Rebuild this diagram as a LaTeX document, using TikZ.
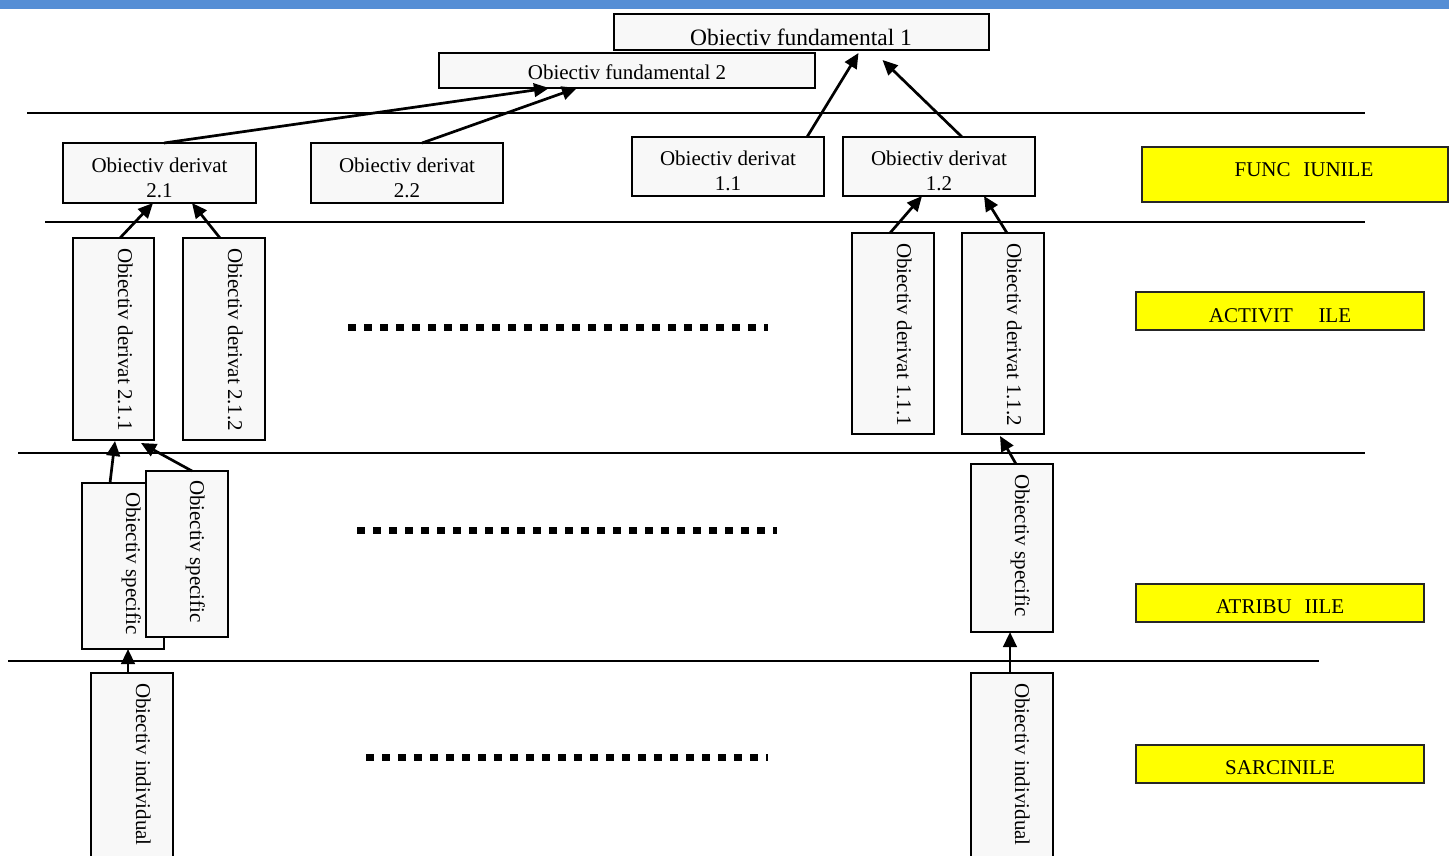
\documentclass[tikz,border=0pt]{standalone}
\usepackage{fontspec}
\setmainfont{Liberation Serif}
\usetikzlibrary{arrows.meta}
\definecolor{topbar}{HTML}{558ED5}
\definecolor{boxfill}{HTML}{F8F8F8}
\definecolor{tagfill}{HTML}{FFFF00}
\begin{document}
\begin{tikzpicture}[x=1pt,y=-1pt,
  objbox/.style={draw=black, line width=1.8pt, fill=boxfill, rectangle,
    inner sep=0pt, outer sep=0pt, anchor=north west},
  tagbox/.style={draw=black!85, line width=1.8pt, fill=tagfill, rectangle,
    inner sep=0pt, outer sep=0pt, anchor=north west},
  txt/.style={inner sep=0pt, outer sep=0pt, font=\fontsize{21}{25}\selectfont},
  bigtxt/.style={inner sep=0pt, outer sep=0pt, font=\fontsize{23.5}{28}\selectfont},
  vtxt/.style={txt, rotate=-90, anchor=base west},
  rule/.style={line width=1.8pt},
  dotrow/.style={line width=7pt, dash pattern=on 8pt off 8pt},
  arr/.style={line width=2.7pt, -{Triangle[length=15pt,width=13.5pt]}}]
\useasboundingbox (0,0) rectangle (1449,855);
\clip (0,0) rectangle (1449,855);
\fill[white] (0,0) rectangle (1449,855);
\fill[topbar] (0,0) rectangle (1449,8.5);

% level separators
\draw[rule] (27,113) -- (1365,113);
\draw[rule] (45,222) -- (1365,222);
\draw[rule] (18,453) -- (1365,453);
\draw[rule] (8,661) -- (1319,661);

% fundamental objectives
\node[objbox, minimum width=375pt, minimum height=36pt] (F1) at (614,14) {};
\node[bigtxt, anchor=base] (tF1) at (801,45) {Obiectiv fundamental 1};
\node[objbox, minimum width=376pt, minimum height=35pt] (F2) at (439,53) {};
\node[txt, anchor=base] (tF2) at (627,79) {Obiectiv fundamental 2};

% derived objectives
\node[objbox, minimum width=193pt, minimum height=60pt] (D21) at (63,143) {};
\node[txt, anchor=base] (tD21a) at (159.5,172) {Obiectiv derivat};
\node[txt, anchor=base] (tD21b) at (159.5,197) {2.1};
\node[objbox, minimum width=192pt, minimum height=60pt] (D22) at (311,143) {};
\node[txt, anchor=base] (tD22a) at (407,172) {Obiectiv derivat};
\node[txt, anchor=base] (tD22b) at (407,197) {2.2};
\node[objbox, minimum width=192pt, minimum height=59pt] (D11) at (632,137) {};
\node[txt, anchor=base] (tD11a) at (728,165) {Obiectiv derivat};
\node[txt, anchor=base] (tD11b) at (728,190) {1.1};
\node[objbox, minimum width=192pt, minimum height=59pt] (D12) at (843,137) {};
\node[txt, anchor=base] (tD12a) at (939,165) {Obiectiv derivat};
\node[txt, anchor=base] (tD12b) at (939,190) {1.2};

% second-level derived objectives
\node[objbox, minimum width=81pt, minimum height=202pt] (D211) at (73,238) {};
\node[vtxt] (tD211) at (118,248) {Obiectiv derivat 2.1.1};
\node[objbox, minimum width=82pt, minimum height=202pt] (D212) at (183,238) {};
\node[vtxt] (tD212) at (228,248) {Obiectiv derivat 2.1.2};
\node[objbox, minimum width=82pt, minimum height=201pt] (D111) at (852,233) {};
\node[vtxt] (tD111) at (897,243) {Obiectiv derivat 1.1.1};
\node[objbox, minimum width=82pt, minimum height=201pt] (D112) at (962,233) {};
\node[vtxt] (tD112) at (1007,243) {Obiectiv derivat 1.1.2};

% specific objectives
\node[objbox, minimum width=82pt, minimum height=166pt] (S1) at (82,483) {};
\node[vtxt] (tS1) at (126,492) {Obiectiv specific};
\node[objbox, minimum width=82pt, minimum height=166pt] (S2) at (146,471) {};
\node[vtxt] (tS2) at (190,480) {Obiectiv specific};
\node[objbox, minimum width=82pt, minimum height=168pt] (S3) at (971,464) {};
\node[vtxt] (tS3) at (1015,474) {Obiectiv specific};

% individual objectives
\node[objbox, minimum width=82pt, minimum height=200pt] (I1) at (91,673) {};
\node[vtxt] (tI1) at (136,683) {Obiectiv individual};
\node[objbox, minimum width=82pt, minimum height=200pt] (I2) at (971,673) {};
\node[vtxt] (tI2) at (1015,683) {Obiectiv individual};

% omitted branches
\draw[dotrow] (348,327) -- (768,327);
\draw[dotrow] (357,530) -- (777,530);
\draw[dotrow] (366,757) -- (768,757);

% level labels
\node[tagbox, minimum width=306pt, minimum height=55pt] (Lf) at (1142,147) {};
\node[txt, anchor=base] (tLf) at (1304,176) {FUNC\hphantom{T}IUNILE};
\node[tagbox, minimum width=288pt, minimum height=38pt] (La) at (1136,292) {};
\node[txt, anchor=base] (tLa) at (1280,322) {ACTIVIT\hphantom{AT}ILE};
\node[tagbox, minimum width=288pt, minimum height=38pt] (Lt) at (1136,584) {};
\node[txt, anchor=base] (tLt) at (1280,613) {ATRIBU\hphantom{T}IILE};
\node[tagbox, minimum width=288pt, minimum height=38pt] (Ls) at (1136,745) {};
\node[txt, anchor=base] (tLs) at (1280,774) {SARCINILE};

% contributions towards higher objectives
\draw[arr] ([xshift=4.5pt]D21.north) -- ([xshift=-78pt]F2.south);
\draw[arr] ([xshift=15pt]D22.north) -- ([xshift=-50pt]F2.south);
\draw[arr] ([xshift=79pt]D11.north) -- ([xshift=57pt,yshift=-3pt]F1.south);
\draw[arr] ([xshift=23pt]D12.north) -- ([xshift=81pt,yshift=-10pt]F1.south);
\draw[arr] ([xshift=6.5pt]D211.north) -- ([xshift=-6.5pt]D21.south);
\draw[arr] ([xshift=-4pt]D212.north) -- ([xshift=32.5pt]D21.south);
\draw[arr] ([xshift=-3pt]D111.north) -- ([xshift=-17pt]D12.south);
\draw[arr] ([xshift=4pt]D112.north) -- ([xshift=45pt]D12.south);
\draw[arr] ([xshift=-13pt]S1.north) -- ([xshift=1.5pt,yshift=-1pt]D211.south);
\draw[arr] ([xshift=5pt]S2.north) -- ([xshift=27.5pt,yshift=-3pt]D211.south);
\draw[arr] ([xshift=4pt]S3.north) -- ([xshift=-3pt,yshift=-2pt]D112.south);
\draw[arr] ([xshift=-4pt]I1.north) -- ([xshift=5pt]S1.south);
\draw[arr] ([xshift=-2pt]I2.north) -- ([xshift=-2pt]S3.south);
\end{tikzpicture}
\end{document}
